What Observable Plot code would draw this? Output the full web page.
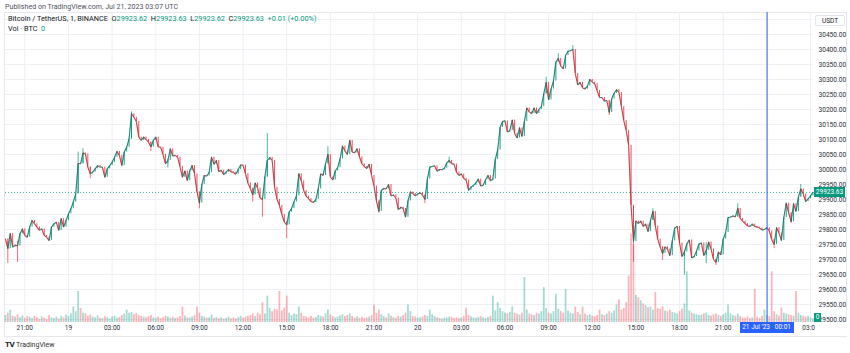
<!DOCTYPE html>
<html><head><meta charset="utf-8">
<script src="https://cdn.jsdelivr.net/npm/d3@7"></script>
<script src="https://cdn.jsdelivr.net/npm/@observablehq/plot@0.6"></script>
<style>
body{margin:0;background:#fff;font-family:Roboto,"Liberation Sans",sans-serif;}
#wrap{position:relative;width:850px;height:353px;overflow:hidden;background:#fff;}
#wrap svg{position:absolute;left:0;top:0;}
.t{position:absolute;white-space:nowrap;font-size:6.5px;line-height:1;color:#131722;}
.g{color:#089981;}
</style></head><body><div id="wrap"></div>
<script>
// ---- data: BTCUSDT, 10-minute sampled closes from 2023-07-18 19:40 UTC ----
const startISO = "2023-07-18T19:40:00Z";
const stepMinutes = 10;
const closes = [
29769,29736,29786,29741,29748,29745,29786,29802,29780,29774,
29808,29830,29819,29808,29797,29802,29780,29775,29763,29808,
29819,29824,29797,29836,29808,29830,29852,29869,29891,29919,
30020,30019,30055,30052,30008,29986,29991,30002,30013,30008,
30008,29974,30002,30013,30024,30041,30060,30047,30013,30058,
30074,30102,30186,30174,30160,30108,30097,30108,30100,30091,
30075,30097,30108,30075,30074,30050,30019,30030,30069,30045,
30047,30041,30010,29974,29995,29963,29995,30013,29985,29925,
29888,29950,29980,29978,29990,30041,30017,30030,29993,29997,
29983,29991,30000,29992,29990,29984,30000,30015,30014,29986,
29955,29937,29915,29955,29938,29905,29900,29975,30030,30040,
30030,29941,29900,29880,29850,29825,29815,29858,29870,29892,
29912,29986,29962,29930,29911,29903,29893,29890,29900,29935,
29985,29980,30019,30050,29975,29965,29995,30006,30035,30078,
30062,30050,30097,30058,30055,30069,30042,30019,30010,30003,
30017,29980,29945,29895,29860,29930,29937,29935,29950,29912,
29915,29905,29866,29874,29870,29841,29895,29925,29920,29912,
29918,29922,29915,29900,29968,30008,30010,30012,29994,30000,
29999,30004,30022,30030,30019,30018,29991,29980,29985,29970,
29965,29930,29941,29947,29955,29968,29945,29947,29966,29980,
29962,29968,30033,30065,30140,30160,30162,30125,30130,30165,
30120,30105,30139,30110,30160,30205,30192,30186,30205,30186,
30200,30210,30252,30290,30232,30268,30295,30358,30370,30345,
30335,30380,30394,30396,30400,30320,30282,30290,30272,30268,
30278,30300,30291,30286,30263,30240,30240,30228,30230,30190,
30235,30254,30266,30257,30210,30163,30130,30080,29880,29760,
29828,29820,29828,29810,29818,29793,29830,29860,29812,29768,
29742,29720,29742,29735,29713,29762,29805,29810,29755,29710,
29725,29752,29765,29705,29710,29728,29752,29755,29713,29730,
29758,29735,29700,29690,29725,29715,29768,29790,29840,29841,
29845,29842,29870,29837,29828,29820,29812,29810,29818,29810,
29808,29805,29798,29800,29806,29795,29766,29750,29806,29788,
29763,29840,29888,29855,29826,29886,29860,29908,29935,29918,
29893,29902,29912,29923.63
];
const volumes = [
45,60,80,40,35,50,30,42,28,38,
33,25,40,30,22,36,28,20,45,30,
26,35,22,40,30,48,38,55,100,70,
200,90,60,55,40,48,35,30,42,28,
25,38,30,22,35,40,28,33,45,55,
80,60,65,50,58,45,40,35,30,38,
45,30,28,35,25,30,40,36,28,33,
26,30,38,100,42,30,28,35,45,100,
60,40,35,28,30,48,26,32,25,30,
22,28,35,25,30,24,32,40,28,35,
40,45,55,38,60,50,127,55,170,90,
70,85,80,200,75,93,170,60,45,55,
50,100,60,40,35,30,38,28,33,45,
40,35,55,80,48,38,30,35,42,50,
38,45,55,40,30,35,28,33,26,30,
35,45,113,60,80,50,38,30,55,40,
33,28,40,35,45,60,113,70,40,35,
28,30,35,45,40,80,50,38,30,26,
22,28,30,35,32,26,30,25,28,40,
93,45,35,30,28,33,38,30,26,32,
40,170,75,127,90,70,60,55,65,100,
60,55,48,60,290,80,55,50,45,60,
55,70,225,90,60,55,70,180,85,70,
60,213,75,60,55,100,65,50,100,55,
45,50,40,38,45,80,50,45,55,70,
60,75,113,147,80,90,127,300,570,500,
175,160,140,120,110,95,100,80,193,90,
85,100,75,70,80,65,60,55,70,85,
120,327,75,60,55,50,45,48,55,60,
45,40,50,55,45,40,50,60,113,55,
45,40,55,38,30,28,35,25,30,213,
35,28,40,80,45,38,327,70,50,40,
93,60,55,50,45,40,200,60,45,40,
35,40,30,25
];
// notable wicks (time, low, high)
const wickTimes = ["2023-07-18T19:50","2023-07-18T20:30","2023-07-19T00:40","2023-07-19T01:00","2023-07-19T01:30",
"2023-07-19T04:20","2023-07-19T05:40","2023-07-19T06:50","2023-07-19T09:00","2023-07-19T12:40","2023-07-19T13:20",
"2023-07-19T13:40","2023-07-19T15:00","2023-07-19T17:50","2023-07-19T21:20","2023-07-20T00:30","2023-07-20T02:10",
"2023-07-20T08:50","2023-07-20T09:40","2023-07-20T10:40","2023-07-20T13:10","2023-07-20T14:50","2023-07-20T16:10",
"2023-07-20T16:50","2023-07-20T18:20","2023-07-20T19:50","2023-07-20T20:30","2023-07-20T22:00","2023-07-21T00:30",
"2023-07-21T01:40","2023-07-21T02:20"];
const wickLows  = [29687,29690,29919,30019,29969,30102,30060,30005,29869,29891,29841,29975,29769,30019,29855,29886,30019,
30252,30358,30396,30180,29690,29830,29697,29648,29686,29680,29840,29736,29820,29908];
const wickHighs = [29760,29760,30058,30069,30008,30192,30091,30035,29925,29937,29905,30120,29825,30076,29895,29915,30041,
30308,30386,30413,30230,29880,29869,29742,29725,29755,29700,29886,29766,29855,29950];
const priceTicks = [29500,29550,29600,29650,29700,29750,29800,29850,29900,29950,30000,30050,30100,30150,30200,30250,30300,30350,30400,30450];
const crosshairTime = "2023-07-21T00:01:00Z";
const header = {symbol:"Bitcoin / TetherUS, 1, BINANCE", o:"29923.62", h:"29923.63", l:"29923.62", c:"29923.63", chg:"+0.01 (+0.00%)"};

// ---- build ----
const teal = "#089981", red = "#f23645";
const volUp = "rgba(8,153,129,0.36)", volDown = "rgba(242,54,69,0.36)";
const t0 = new Date(startISO);
const rows = closes.map((c, i) => ({t: new Date(+t0 + i * stepMinutes * 60000), c, v: volumes[i]}));
rows.forEach((r, i) => {
  r.o = i ? rows[i-1].c : r.c;
  r.tp = i ? rows[i-1].t : r.t;
  r.up = r.c >= r.o;
});
const wicks = wickTimes.map((s, i) => {
  const t = new Date(s + ":00Z");
  const k = Math.round((t - t0) / (stepMinutes * 60000));
  return {t, lo: wickLows[i], hi: wickHighs[i], up: rows[k] ? rows[k].up : true};
});
const xDomain = [new Date("2023-07-18T19:40:24Z"), new Date("2023-07-21T03:12:18Z")];
const crossDate = new Date(crosshairTime);
const timeTicks = d3.utcHour.every(3).range(xDomain[0], xDomain[1]);
// the tick under the crosshair time label is hidden by that label
const shownTicks = timeTicks.filter(d => Math.abs(d - crossDate) > 90 * 60000);
const fmtTick = d => d.getUTCHours() === 0 ? String(d.getUTCDate()) : d3.utcFormat("%H:%M")(d);
const gridVals = priceTicks.concat([30500]);
const last = closes[closes.length - 1];

const price = Plot.plot({
  width: 850, height: 353,
  marginLeft: 5, marginRight: 37, marginTop: 12, marginBottom: 31,
  x: {type: "utc", domain: xDomain},
  y: {domain: [29490, 30523.33]},
  color: {type: "identity"},
  style: {fontFamily: "Roboto, 'Liberation Sans', sans-serif", fontSize: "6.6px", color: "#131722", background: "transparent", overflow: "visible"},
  marks: [
    Plot.gridY(gridVals, {stroke: "#eef0f5", strokeOpacity: 1}),
    Plot.gridX(timeTicks, {stroke: "#eef0f5", strokeOpacity: 1}),
    Plot.axisY(priceTicks, {anchor: "right", tickSize: 0, tickPadding: 5, tickFormat: d => d.toFixed(2), label: null, fill: "#2a2e39"}),
    Plot.axisX(shownTicks, {anchor: "bottom", tickSize: 0, tickPadding: 3, tickFormat: fmtTick, label: null, fill: "#2a2e39"}),
    Plot.ruleY([last], {stroke: teal, strokeDasharray: "1,2", strokeOpacity: 0.8}),
    Plot.ruleX(wicks, {x: "t", y1: "lo", y2: "hi", stroke: d => d.up ? teal : red, strokeWidth: 0.9, strokeOpacity: 0.8}),
    Plot.ruleX(rows, {x: "t", y1: "o", y2: "c", stroke: d => d.up ? teal : red, strokeWidth: 1, strokeOpacity: 0.9}),
    Plot.link(rows.slice(1), {x1: "tp", y1: "o", x2: "t", y2: "c", stroke: d => d.up ? teal : red, strokeWidth: 1.1, strokeOpacity: 0.85}),
    Plot.line(rows, {x: "t", y: "c", stroke: "#333", strokeWidth: 0.55, strokeOpacity: 0.6})
  ]
});

const vol = Plot.plot({
  width: 850, height: 353,
  marginLeft: 5, marginRight: 37, marginTop: 12, marginBottom: 31,
  x: {type: "utc", domain: xDomain, axis: null},
  y: {domain: [0, 2000], axis: null},
  color: {type: "identity"},
  style: {background: "transparent"},
  marks: [
    Plot.ruleX(rows, {x: "t", y1: 0, y2: "v", stroke: d => d.up ? volUp : volDown, strokeWidth: 1.8}),
    Plot.ruleX([crossDate], {stroke: "#2962ff", strokeWidth: 1})
  ]
});

const wrap = document.getElementById("wrap");
function div(html, css, cls) {
  const d = document.createElement("div");
  d.className = cls || "t";
  d.innerHTML = html;
  Object.assign(d.style, css);
  wrap.appendChild(d);
  return d;
}
// frame
div("", {left: "4px", top: "12px", width: "843px", height: "325px", border: "1px solid #e6e8ee", boxSizing: "border-box"}, "t");
wrap.appendChild(price);
wrap.appendChild(vol);

const ys = price.scale("y"), xs = vol.scale("x");
div("Published on TradingView.com, Jul 21, 2023 03:07 UTC", {left: "5px", top: "2.5px", color: "#50535e", fontSize: "7.1px"});
div(`${header.symbol}&nbsp;&nbsp;O<span class="g">${header.o}</span>&nbsp;&nbsp;H<span class="g">${header.h}</span>&nbsp;&nbsp;L<span class="g">${header.l}</span>&nbsp;&nbsp;C<span class="g">${header.c}</span>&nbsp;&nbsp;<span class="g">${header.chg}</span>`,
    {left: "8px", top: "14.5px", fontSize: "7.3px"});
div(`Vol · BTC&nbsp;&nbsp;<span class="g">0</span>`, {left: "8px", top: "24.5px", fontSize: "7.3px"});
div("USDT", {left: "815px", top: "15px", width: "30px", height: "11px", border: "1px solid #e0e3eb", borderRadius: "2px", boxSizing: "border-box", textAlign: "center", paddingTop: "2px", background: "#fff"});
// last price label
const py = ys.apply(last);
div(last.toFixed(2), {left: "814px", top: (py - 5) + "px", width: "31px", height: "10px", background: teal, color: "#fff", textAlign: "center", paddingTop: "1.8px", boxSizing: "border-box"});
// volume zero label
div("0", {left: "814px", top: "313px", width: "7px", height: "9px", background: teal, color: "#fff", textAlign: "center", paddingTop: "1.3px", boxSizing: "border-box"});
// clip axis label under price scale
div("", {left: "815px", top: "322px", width: "35px", height: "14px", background: "#fff"});
// crosshair time label
const cx = xs.apply(crossDate);
div("21 Jul '23&nbsp;&nbsp;&nbsp;00:01", {left: (cx - 27) + "px", top: "322px", width: "54px", height: "11px", background: "#2962ff", color: "#fff", textAlign: "center", paddingTop: "2.3px", boxSizing: "border-box"});
// logo
div(`<b style="font-size:8px;letter-spacing:-0.5px;color:#131722">TV</b>&nbsp;<span style="color:#333">TradingView</span>`, {left: "5px", top: "341px", fontSize: "7px"});
</script></body></html>
